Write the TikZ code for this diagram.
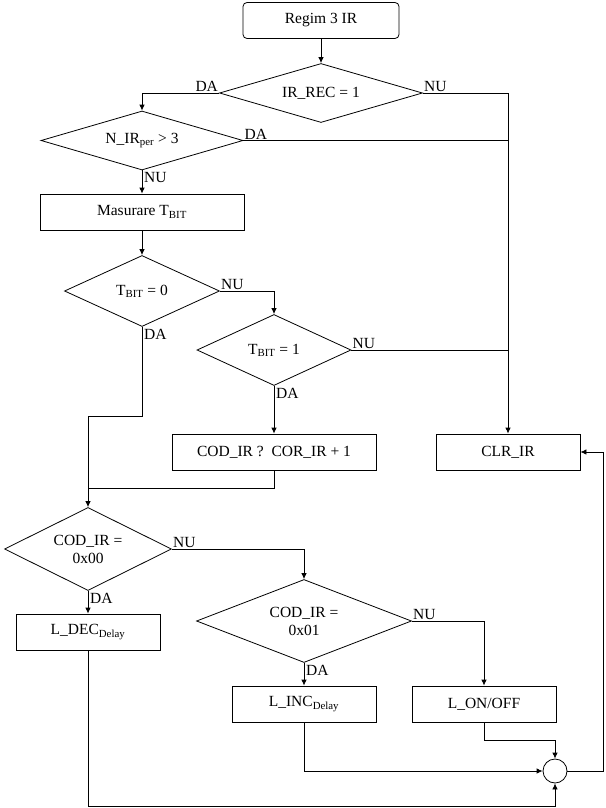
\documentclass[tikz,border=0pt]{standalone}
\usepackage{fontspec}
\setmainfont{Liberation Serif}
\usetikzlibrary{arrows.meta,shapes.geometric}
\begin{document}
\begin{tikzpicture}[x=1pt,y=-1pt,
  every node/.style={font=\fontsize{15.5}{18}\selectfont},
  box/.style={draw,line width=0.8pt,minimum width=144pt,minimum height=36pt,inner sep=0pt},
  dec/.style={draw,line width=0.8pt,shape=diamond,inner sep=0pt,align=center},
  arr/.style={line width=0.8pt,-{Latex[length=6pt,width=5.5pt]}},
  ln/.style={line width=0.8pt},
  lbl/.style={inner sep=1pt}]
\useasboundingbox (0,0) rectangle (605,808);
% nodes
\node[box,rounded corners=4pt,minimum width=156pt] (start) at (321,20.5) {Regim 3 IR};
\node[dec,aspect=3.44,minimum width=203pt,minimum height=59pt] (d1) at (321,93) {IR\_REC = 1};
\node[dec,aspect=3.42,minimum width=202pt,minimum height=59pt] (d2) at (142,140.5) {N\_IR\textsubscript{per} > 3};
\node[box,minimum width=204pt] (mas) at (142,212) {Masurare T\textsubscript{BIT}};
\node[dec,aspect=2.18,minimum width=155pt,minimum height=71pt] (d3) at (142,291) {T\textsubscript{BIT} = 0};
\node[dec,aspect=2.17,minimum width=154pt,minimum height=71pt] (d4) at (274,350) {T\textsubscript{BIT} = 1};
\node[box,minimum width=204pt] (cod) at (274,452) {COD\_IR ?\ \ COR\_IR + 1};
\node[box] (clr) at (508,452) {CLR\_IR};
\node[dec,aspect=2.0,minimum width=167pt,minimum height=83pt] (d5) at (88,549) {COD\_IR =\\0x00};
\node[dec,aspect=2.6,minimum width=215pt,minimum height=83pt] (d6) at (304,621) {COD\_IR =\\0x01};
\node[box] (ldec) at (88,632) {L\_DEC\textsubscript{Delay}};
\node[box] (linc) at (304,704) {L\_INC\textsubscript{Delay}};
\node[box] (lon) at (484,704) {L\_ON/OFF};
\node[draw,circle,line width=0.8pt,minimum size=24pt,inner sep=0pt] (circ) at (555,771) {};
% junction coordinates
\coordinate (j1) at (88,416);
\coordinate (j2) at (88,488);
\coordinate (j3) at (484,740);
\coordinate (j4) at (88,806);
\coordinate (j5) at (603,771);
% connectors
\draw[arr] (start.south) -- (d1.north);
\draw[arr] (d1.west) -| (d2.north);
\node[lbl,anchor=south east] (la1) at (d1.west) {DA};
\draw[arr] (d1.east) -| (clr.north);
\node[lbl,anchor=south west] (la2) at (d1.east) {NU};
\draw[ln] (d2.east) -- (d2.east -| clr.north);
\node[lbl,anchor=south west] (la3) at (d2.east) {DA};
\draw[arr] (d2.south) -- (mas.north);
\node[lbl,anchor=north west,inner sep=2pt] (la4) at (d2.south) {NU};
\draw[arr] (mas.south) -- (d3.north);
\draw[arr] (d3.east) -| (d4.north);
\node[lbl,anchor=south west] (la5) at (d3.east) {NU};
\draw[ln] (d4.east) -- (d4.east -| clr.north);
\node[lbl,anchor=south west] (la6) at (d4.east) {NU};
\draw[arr] (d4.south) -- (cod.north);
\node[lbl,anchor=north west,inner sep=2pt] (la7) at (d4.south) {DA};
\draw[arr] (d3.south) |- (j1) -- (d5.north);
\node[lbl,anchor=north west,inner sep=2pt] (la8) at (d3.south) {DA};
\draw[ln] (cod.south) |- (j2);
\draw[arr] (d5.east) -| (d6.north);
\node[lbl,anchor=south west] (la9) at (d5.east) {NU};
\draw[arr] (d5.south) -- (ldec.north);
\node[lbl,anchor=north west,inner sep=2pt] (la10) at (d5.south) {DA};
\draw[arr] (d6.east) -| (lon.north);
\node[lbl,anchor=south west] (la11) at (d6.east) {NU};
\draw[arr] (d6.south) -- (linc.north);
\node[lbl,anchor=north west,inner sep=2pt] (la12) at (d6.south) {DA};
\draw[arr] (lon.south) -- (j3) -| (circ.north);
\draw[arr] (linc.south) |- (circ.west);
\draw[arr] (ldec.south) -- (j4) -| (circ.south);
\draw[arr] (circ.east) -- (j5) |- (clr.east);
\end{tikzpicture}
\end{document}
